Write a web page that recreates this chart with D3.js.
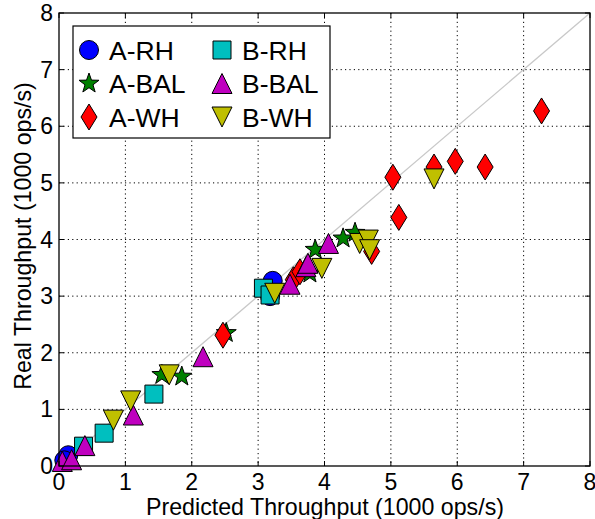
<!DOCTYPE html>
<html>
<head>
<meta charset="utf-8">
<script src="https://cdn.jsdelivr.net/npm/d3@7"></script>
<style>
  body { margin: 0; background: #fff; }
  text { font-family: "Liberation Sans", Arial, Helvetica, sans-serif; }
</style>
</head>
<body>
<div id="chart"></div>
<script>
// values, [predicted, real] in 1000 ops/s
const aRH = [[0.14, 0.19], [0.08, 0.10], [3.22, 3.27], [3.18, 3.00]];
const aBAL = [[2.52, 2.35], [1.55, 1.61], [1.85, 1.58], [3.78, 3.40], [3.86, 3.82], [4.28, 4.02], [4.46, 4.12]];
const aWH = [[2.47, 2.31], [3.53, 3.29], [3.63, 3.43], [4.71, 3.79], [5.03, 5.10], [5.12, 4.39],
             [5.65, 5.28], [5.97, 5.38], [6.42, 5.28], [7.27, 6.27]];
const bRH = [[0.37, 0.35], [0.68, 0.58], [1.43, 1.27], [3.08, 3.14], [3.18, 3.02]];
const bBAL = [[0.05, 0.08], [0.19, 0.11], [0.39, 0.36], [1.12, 0.90], [2.17, 1.93], [3.48, 3.21],
              [3.72, 3.52], [3.75, 3.58], [4.06, 3.93]];
const bWH = [[0.82, 0.81], [1.08, 1.15], [1.66, 1.61], [3.25, 3.05], [3.96, 3.49], [4.53, 3.93],
             [4.66, 3.99], [4.68, 3.82], [5.65, 5.07]];
const ticks = [0, 1, 2, 3, 4, 5, 6, 7, 8];

const series = [
  { name: "A-RH", data: aRH, shape: "circle", color: "#0000ff" },
  { name: "A-BAL", data: aBAL, shape: "star", color: "#008000" },
  { name: "A-WH", data: aWH, shape: "diamond", color: "#ff0000" },
  { name: "B-RH", data: bRH, shape: "square", color: "#00bfbf" },
  { name: "B-BAL", data: bBAL, shape: "up", color: "#bf00bf" },
  { name: "B-WH", data: bWH, shape: "down", color: "#bfbf00" }
];

const width = 595, height = 519;
const plotL = 59, plotR = 590, plotT = 13, plotB = 466;

const svg = d3.select("#chart").append("svg")
  .attr("width", width).attr("height", height);

const x = d3.scaleLinear().domain([0, 8]).range([plotL, plotR]);
const y = d3.scaleLinear().domain([0, 8]).range([plotB, plotT]);

// marker outlines, centered on 0,0
function shapePath(shape) {
  if (shape === "circle") return d3.arc()({ innerRadius: 0, outerRadius: 9.5, startAngle: 0, endAngle: 2 * Math.PI });
  if (shape === "square") return "M-9,-9H9V9H-9Z";
  if (shape === "diamond") return "M0,-13L8,0L0,13L-8,0Z";
  if (shape === "up") return "M0,-10L10,10L-10,10Z";
  if (shape === "down") return "M0,10L10,-10L-10,-10Z";
  if (shape === "star") {
    const pts = [];
    for (let i = 0; i < 10; i++) {
      const r = i % 2 === 0 ? 10.5 : 4.2;
      const a = -Math.PI / 2 + i * Math.PI / 5;
      pts.push([r * Math.cos(a), r * Math.sin(a)]);
    }
    return "M" + pts.map(p => p[0].toFixed(2) + "," + p[1].toFixed(2)).join("L") + "Z";
  }
}

// grid
const grid = svg.append("g")
  .attr("stroke", "#000").attr("stroke-width", 1).attr("stroke-dasharray", "1.2,3.2");
grid.selectAll(".gx").data(ticks.slice(1, -1)).join("line")
  .attr("x1", d => x(d)).attr("x2", d => x(d)).attr("y1", plotT).attr("y2", plotB);
grid.selectAll(".gy").data(ticks.slice(1, -1)).join("line")
  .attr("y1", d => y(d)).attr("y2", d => y(d)).attr("x1", plotL).attr("x2", plotR);

// diagonal y = x
svg.append("line")
  .attr("x1", x(0)).attr("y1", y(0)).attr("x2", x(8)).attr("y2", y(8))
  .attr("stroke", "#c8c8c8").attr("stroke-width", 1.3);

// points
series.forEach(s => {
  svg.append("g").selectAll("path").data(s.data).join("path")
    .attr("d", shapePath(s.shape))
    .attr("transform", d => `translate(${x(d[0])},${y(d[1])})`)
    .attr("fill", s.color).attr("stroke", "#000").attr("stroke-width", 1);
});

// ticks inside on all four sides
const tk = svg.append("g").attr("stroke", "#000").attr("stroke-width", 1);
ticks.forEach(t => {
  tk.append("line").attr("x1", x(t)).attr("x2", x(t)).attr("y1", plotB).attr("y2", plotB - 5);
  tk.append("line").attr("x1", x(t)).attr("x2", x(t)).attr("y1", plotT).attr("y2", plotT + 5);
  tk.append("line").attr("y1", y(t)).attr("y2", y(t)).attr("x1", plotL).attr("x2", plotL + 5);
  tk.append("line").attr("y1", y(t)).attr("y2", y(t)).attr("x1", plotR).attr("x2", plotR - 5);
});

svg.append("rect")
  .attr("x", plotL).attr("y", plotT).attr("width", plotR - plotL).attr("height", plotB - plotT)
  .attr("fill", "none").attr("stroke", "#000").attr("stroke-width", 1.3);

// tick labels
svg.append("g").selectAll("text").data(ticks).join("text")
  .attr("x", d => x(d)).attr("y", 490)
  .attr("text-anchor", "middle").attr("font-size", 23).text(d => d);
svg.append("g").selectAll("text").data(ticks).join("text")
  .attr("x", 53).attr("y", d => y(d) + 8)
  .attr("text-anchor", "end").attr("font-size", 23).text(d => d);

// axis titles
svg.append("text")
  .attr("x", 325).attr("y", 515).attr("text-anchor", "middle").attr("font-size", 23.2)
  .text("Predicted Throughput (1000 ops/s)");
svg.append("text")
  .attr("transform", "translate(31,236) rotate(-90)").attr("text-anchor", "middle").attr("font-size", 23.2)
  .text("Real Throughput (1000 ops/s)");

// legend, two columns of three
const legend = svg.append("g");
legend.append("rect")
  .attr("x", 73).attr("y", 26).attr("width", 257).attr("height", 112)
  .attr("fill", "#fff").attr("stroke", "#000").attr("stroke-width", 1.2);
series.forEach((s, i) => {
  const col = Math.floor(i / 3), row = i % 3;
  const mx = 89 + col * 133, my = 50 + row * 33.5;
  legend.append("path")
    .attr("d", shapePath(s.shape))
    .attr("transform", `translate(${mx},${my})`)
    .attr("fill", s.color).attr("stroke", "#000").attr("stroke-width", 1);
  legend.append("text")
    .attr("x", mx + 20).attr("y", my + 9.5)
    .attr("font-size", 26.5).text(s.name);
});
</script>
</body>
</html>
